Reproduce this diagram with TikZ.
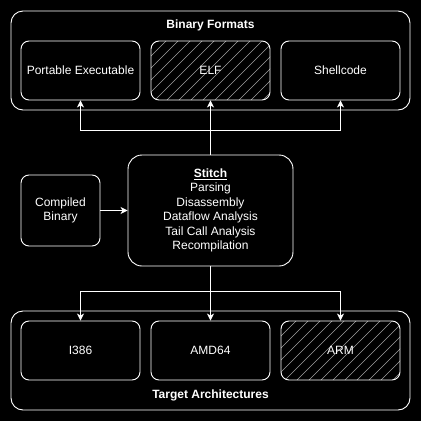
\documentclass[tikz,border=0pt]{standalone}
\usepackage{fontspec}
\setmainfont{Liberation Sans}
\usetikzlibrary{arrows.meta}
\begin{document}
\begin{tikzpicture}[x=1pt,y=-1pt,
  every node/.style={text=white,font=\fontsize{12}{14.5}\selectfont},
  box/.style={draw=white,line width=0.9pt,rounded corners=8pt,fill=black,inner sep=0pt,align=center},
  group/.style={draw=white,line width=0.9pt,rounded corners=12pt,inner sep=0pt},
  hatched/.style={path picture={
    \foreach \k in {-80,-68,...,140}{
      \draw[gray!75,line width=0.6pt] ([xshift=\k pt]path picture bounding box.south west) -- ++(80pt,80pt);
    }}},
  conn/.style={draw=white,line width=0.9pt},
  arr/.style={conn,-{Stealth[length=7pt,width=7pt,inset=2pt]}},
  title/.style={font=\fontsize{12}{14.5}\selectfont\bfseries}
]
\fill[black] (0,0) rectangle (421,421);
\useasboundingbox (0,0) rectangle (421,421);

% containers
\node[group,minimum width=399pt,minimum height=99pt] (top) at (210.5,60.5) {};
\node[title] (toplabel) at (210.5,25) {Binary Formats};
\node[group,minimum width=399pt,minimum height=99pt] (bot) at (210.5,360.5) {};
\node[title] (botlabel) at (210.5,395) {Target Architectures};

% binary formats
\node[box,minimum width=119pt,minimum height=59pt] (pe) at (80.5,70.5) {Portable Executable};
\node[box,hatched,minimum width=119pt,minimum height=59pt] (elf) at (210.5,70.5) {ELF};
\node[box,minimum width=119pt,minimum height=59pt] (sc) at (340.5,70.5) {Shellcode};

% middle
\node[box,minimum width=79pt,minimum height=71pt] (cb) at (60.5,210.5) {Compiled\\Binary};
\node[box,rounded corners=14pt,minimum width=165pt,minimum height=111pt] (st) at (210.5,210.5)
  {\underline{\textbf{Stitch}}\\Parsing\\Disassembly\\Dataflow Analysis\\Tail Call Analysis\\Recompilation};

% target architectures
\node[box,minimum width=119pt,minimum height=59pt] (i386) at (80.5,350.5) {I386};
\node[box,minimum width=119pt,minimum height=59pt] (amd) at (210.5,350.5) {AMD64};
\node[box,hatched,minimum width=119pt,minimum height=59pt] (arm) at (340.5,350.5) {ARM};

% connectors
\draw[arr] (cb.east) -- (st.west);
\draw[arr] (st.north) -- (elf.south);
\coordinate (tj) at (210.5,130.5);
\draw[arr] (tj) -| (pe.south);
\draw[arr] (tj) -| (sc.south);
\draw[arr] (st.south) -- (amd.north);
\coordinate (bj) at (210.5,291);
\draw[arr] (bj) -| (i386.north);
\draw[arr] (bj) -| (arm.north);
\end{tikzpicture}
\end{document}
